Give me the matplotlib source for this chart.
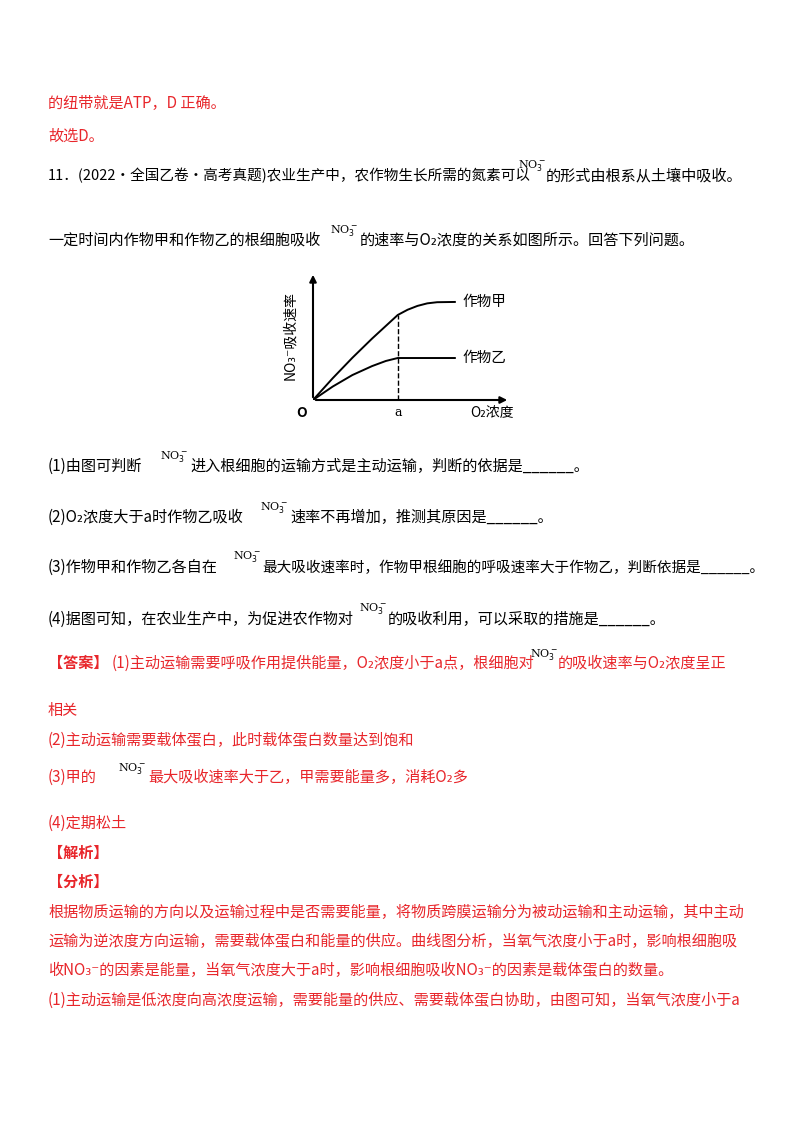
import matplotlib
matplotlib.use("Agg")
import matplotlib.pyplot as plt

FAM = ['Noto Sans CJK SC', 'DejaVu Sans']
plt.rcParams['font.family'] = FAM
RED = '#e8262b'
W, H = 800, 1132

# chart data
a_pos = 4.3
x_jia = [0, 1, 2, 3, 4.3, 4.8, 5.3, 5.8, 6.3, 7.2]
y_jia = [0, 1.7, 3.3, 4.8, 6.64, 7.05, 7.35, 7.55, 7.64, 7.66]
x_yi = [0, 1, 2, 3, 3.7, 4.3, 7.2]
y_yi = [0, 1.05, 1.95, 2.65, 3.05, 3.28, 3.28]
series_labels = ['作物甲', '作物乙']

fig = plt.figure(figsize=(W/100, H/100), dpi=100)
FS = 10.9

def T(x, y, s, c='black', size=FS, **kw):
    fig.text(x/W, 1-y/H, s, color=c, fontsize=size, va='center', ha='left', family=FAM, **kw)

def NO3(x, y):
    fig.text(x/W, 1-y/H, 'NO$_3^-$', color='black', fontsize=8, va='center', ha='left',
             family=['DejaVu Serif'])

T(48, 103, '的纽带就是ATP，D 正确。', RED)
T(48, 136, '故选D。', RED)
T(48, 176, '11．(2022·全国乙卷·高考真题)农业生产中，农作物生长所需的氮素可以', size=10.5)
NO3(518, 166); T(546, 176, '的形式由根系从土壤中吸收。')
T(48, 240, '一定时间内作物甲和作物乙的根细胞吸收'); NO3(330, 230)
T(360, 240, '的速率与O₂浓度的关系如图所示。回答下列问题。')
T(48, 466, '(1)由图可判断'); NO3(160, 456)
T(190, 466, '进入根细胞的运输方式是主动运输，判断的依据是______。')
T(48, 517, '(2)O₂浓度大于a时作物乙吸收'); NO3(260, 507)
T(290, 517, '速率不再增加，推测其原因是______。')
T(48, 567, '(3)作物甲和作物乙各自在'); NO3(233, 557)
T(262, 567, '最大吸收速率时，作物甲根细胞的呼吸速率大于作物乙，判断依据是______。', size=10.5)
T(48, 619, '(4)据图可知，在农业生产中，为促进农作物对'); NO3(359, 609)
T(388, 619, '的吸收利用，可以采取的措施是______。')
T(48, 663, '【答案】', RED, weight='bold')
T(112, 663, '(1)主动运输需要呼吸作用提供能量，O₂浓度小于a点，根细胞对', RED); NO3(530, 655)
T(558, 663, '的吸收速率与O₂浓度呈正', RED)
T(48, 710, '相关', RED)
T(48, 740, '(2)主动运输需要载体蛋白，此时载体蛋白数量达到饱和', RED)
T(48, 777, '(3)甲的', RED); NO3(118, 768)
T(148, 777, '最大吸收速率大于乙，甲需要能量多，消耗O₂多', RED)
T(48, 823, '(4)定期松土', RED)
T(48, 853, '【解析】', RED, weight='bold')
T(48, 882, '【分析】', RED, weight='bold')
T(48, 912, '根据物质运输的方向以及运输过程中是否需要能量，将物质跨膜运输分为被动运输和主动运输，其中主动', RED)
T(48, 941, '运输为逆浓度方向运输，需要载体蛋白和能量的供应。曲线图分析，当氧气浓度小于a时，影响根细胞吸', RED)
T(48, 970, '收NO₃⁻的因素是能量，当氧气浓度大于a时，影响根细胞吸收NO₃⁻的因素是载体蛋白的数量。', RED)
T(48, 1000, '(1)主动运输是低浓度向高浓度运输，需要能量的供应、需要载体蛋白协助，由图可知，当氧气浓度小于a', RED)

# chart: origin px (313,400), x end 510 (10 units), y top 272 (10 units)
ax = fig.add_axes([313/W, 1-400/H, (510-313)/W, (400-272)/H])
ax.set_xlim(0, 10); ax.set_ylim(0, 10)
ax.axis('off')
ax.annotate('', xy=(10, 0), xytext=(0, 0), xycoords='data',
            arrowprops=dict(arrowstyle='-|>', color='black', lw=1.5), annotation_clip=False)
ax.annotate('', xy=(0, 10), xytext=(0, 0), xycoords='data',
            arrowprops=dict(arrowstyle='-|>', color='black', lw=1.5), annotation_clip=False)
ax.plot(x_jia, y_jia, color='black', lw=1.4)
ax.plot(x_yi, y_yi, color='black', lw=1.4)
ax.plot([a_pos, a_pos], [0, y_jia[4]], color='black', lw=1, ls='--')
ax.text(7.6, y_jia[-1], series_labels[0], fontsize=10.5, va='center')
ax.text(7.6, y_yi[-1], series_labels[1], fontsize=10.5, va='center')
ax.text(a_pos, -0.5, 'a', fontsize=9, va='top', ha='center', family=['DejaVu Serif'])
ax.text(-0.3, -0.5, 'O', fontsize=10, va='top', ha='right', style='italic', weight='bold')
ax.text(10.2, -0.5, 'O₂浓度', fontsize=10, va='top', ha='right')
ax.text(-0.8, 5, 'NO₃⁻吸收速率', fontsize=10, va='center', ha='right', rotation=90)

fig.savefig('out.png', dpi=100)
